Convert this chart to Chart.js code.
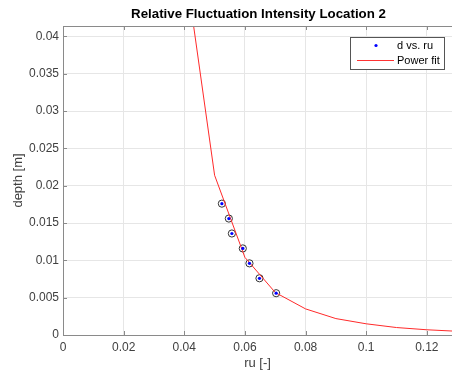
<!DOCTYPE html>
<html>
<head>
<meta charset="utf-8">
<script src="https://cdn.jsdelivr.net/npm/chart.js@4/dist/chart.umd.min.js"></script>
<style>
  html, body { margin: 0; padding: 0; background: #fff; }
  #wrap { width: 452px; height: 374px; }
</style>
</head>
<body>
<div id="wrap"><canvas id="FitChart"></canvas></div>
<script>
// measured points (ru, depth)
const ruValues = [0.0524, 0.0547, 0.0557, 0.0593, 0.0615, 0.0648, 0.0703];
const depthValues = [0.0176, 0.0156, 0.0136, 0.0116, 0.0096, 0.0076, 0.0056];

// power fit curve as drawn (sampled every 0.01)
const fitX = [0.04, 0.05, 0.06, 0.07, 0.08, 0.09, 0.10, 0.11, 0.12, 0.13];
const fitY = [0.0503, 0.0214, 0.0104, 0.0057, 0.0035, 0.0022, 0.0015, 0.0010, 0.0007, 0.0005];

const xTicks = [0, 0.02, 0.04, 0.06, 0.08, 0.1, 0.12];
const xTickLabels = ['0', '0.02', '0.04', '0.06', '0.08', '0.1', '0.12'];
const yTicks = [0, 0.005, 0.01, 0.015, 0.02, 0.025, 0.03, 0.035, 0.04];
const yTickLabels = ['0', '0.005', '0.01', '0.015', '0.02', '0.025', '0.03', '0.035', '0.04'];

const axisColor = '#8a8a8a';
const textColor = '#404040';
const fontFamily = '"Liberation Sans", Arial, Helvetica, sans-serif';

const points = ruValues.map((x, i) => ({ x: x, y: depthValues[i] }));
const fitPoints = fitX.map((x, i) => ({ x: x, y: fitY[i] }));

// title, top border, inward ticks and the legend box, MATLAB style
const matlabDecor = {
    id: 'matlabDecor',
    afterDraw(chart) {
        const ctx = chart.ctx;
        const area = chart.chartArea;
        const xs = chart.scales.x;
        const ys = chart.scales.y;
        ctx.save();

        ctx.strokeStyle = axisColor;
        ctx.lineWidth = 1;
        ctx.beginPath();
        ctx.moveTo(area.left, area.top + 0.5);
        ctx.lineTo(area.right, area.top + 0.5);
        xs.ticks.forEach(t => {
            const px = Math.round(xs.getPixelForValue(t.value)) + 0.5;
            ctx.moveTo(px, area.bottom);
            ctx.lineTo(px, area.bottom - 4);
            ctx.moveTo(px, area.top);
            ctx.lineTo(px, area.top + 4);
        });
        ys.ticks.forEach(t => {
            const py = Math.round(ys.getPixelForValue(t.value)) + 0.5;
            ctx.moveTo(area.left, py);
            ctx.lineTo(area.left + 4, py);
        });
        ctx.stroke();

        ctx.fillStyle = '#000';
        ctx.font = 'bold 13.3px ' + fontFamily;
        ctx.textAlign = 'center';
        ctx.textBaseline = 'middle';
        ctx.fillText('Relative Fluctuation Intensity Location 2', (area.left + area.right) / 2 + 1, 14);

        // legend
        const lx = 350, ly = 37, lw = 94, lh = 32;
        ctx.fillStyle = '#fff';
        ctx.fillRect(lx, ly, lw, lh);
        ctx.strokeStyle = '#555555';
        ctx.strokeRect(lx + 0.5, ly + 0.5, lw, lh);
        ctx.fillStyle = '#0000ff';
        ctx.beginPath();
        ctx.arc(376, 45.5, 1.6, 0, Math.PI * 2);
        ctx.fill();
        ctx.strokeStyle = '#ff3333';
        ctx.beginPath();
        ctx.moveTo(357, 60.5);
        ctx.lineTo(394, 60.5);
        ctx.stroke();
        ctx.fillStyle = '#000';
        ctx.font = '11px ' + fontFamily;
        ctx.textAlign = 'left';
        ctx.fillText('d vs. ru', 397, 46);
        ctx.fillText('Power fit', 397, 61);

        ctx.restore();
    }
};

const ctx = document.getElementById('FitChart').getContext('2d');

new Chart(ctx, {
    type: 'scatter',
    data: {
        datasets: [
            {
                label: 'rings',
                data: points,
                pointRadius: 3.6,
                pointBorderWidth: 1,
                pointBorderColor: '#333333',
                pointBackgroundColor: 'rgba(0,0,0,0)',
                showLine: false,
                order: 3
            },
            {
                label: 'Power fit',
                data: fitPoints,
                showLine: true,
                borderColor: '#ff2a2a',
                borderWidth: 1,
                pointRadius: 0,
                tension: 0,
                order: 2
            },
            {
                label: 'd vs. ru',
                data: points,
                pointRadius: 1.6,
                pointBorderWidth: 0,
                pointBackgroundColor: '#0000ff',
                showLine: false,
                order: 1
            }
        ]
    },
    options: {
        responsive: true,
        maintainAspectRatio: false,
        animation: false,
        devicePixelRatio: 1,
        layout: { autoPadding: false, padding: { top: 26, left: 0, right: 0, bottom: 0 } },
        plugins: {
            legend: { display: false },
            title: { display: false },
            tooltip: { enabled: false }
        },
        scales: {
            x: {
                type: 'linear',
                min: 0,
                max: 0.1283,
                afterBuildTicks: scale => { scale.ticks = xTicks.map(v => ({ value: v })); },
                afterFit: scale => { scale.height = 39; },
                ticks: {
                    color: textColor,
                    font: { family: fontFamily, size: 12 },
                    padding: 5,
                    maxRotation: 0,
                    callback: (value, index) => xTickLabels[index]
                },
                grid: { color: '#e6e6e6', drawTicks: false },
                border: { color: axisColor },
                title: {
                    display: true,
                    text: 'ru [-]',
                    color: textColor,
                    font: { family: fontFamily, size: 13 },
                    padding: { top: 0, bottom: 3 }
                }
            },
            y: {
                type: 'linear',
                min: 0,
                max: 0.0414,
                afterBuildTicks: scale => { scale.ticks = yTicks.map(v => ({ value: v })); },
                afterFit: scale => { scale.width = 63; },
                ticks: {
                    color: textColor,
                    font: { family: fontFamily, size: 12 },
                    padding: 4,
                    callback: (value, index) => yTickLabels[index]
                },
                grid: { color: '#e6e6e6', drawTicks: false },
                border: { color: axisColor },
                title: {
                    display: true,
                    text: 'depth [m]',
                    color: textColor,
                    font: { family: fontFamily, size: 13 },
                    padding: { top: 11, bottom: 0 }
                }
            }
        }
    },
    plugins: [matlabDecor]
});
</script>
</body>
</html>
